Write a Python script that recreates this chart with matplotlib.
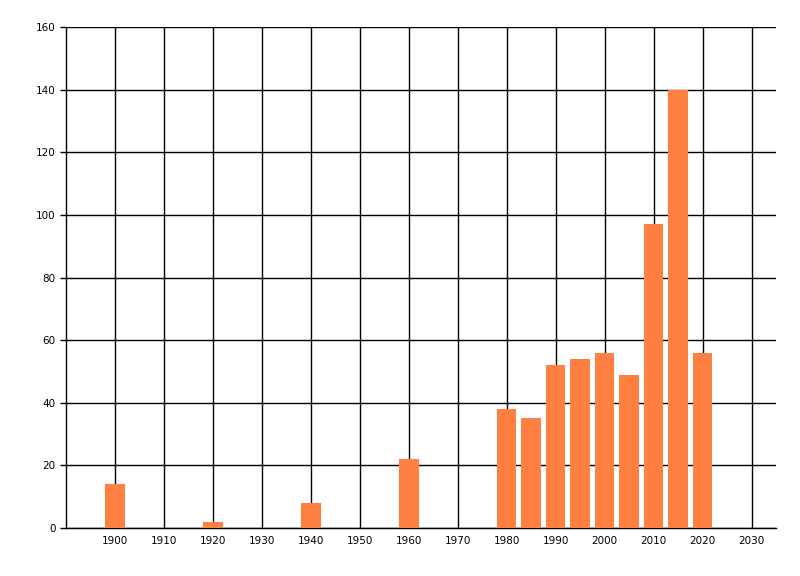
import matplotlib
matplotlib.use("Agg")
import matplotlib.pyplot as plt

years = [1900, 1920, 1940, 1960, 1980, 1985, 1990, 1995, 2000, 2005, 2010, 2015, 2020]
counts = [14, 2, 8, 22, 38, 35, 52, 54, 56, 49, 97, 140, 56]
xticks = list(range(1900, 2031, 10))
yticks = list(range(0, 161, 20))

fig = plt.figure(figsize=(8, 5.76), dpi=100)
ax = fig.add_axes([0.0825, 0.0833, 0.8875, 0.8698])
ax.bar(years, counts, width=4, color="#FF8040", zorder=3)
ax.set_xlim(1890, 2035)
ax.set_ylim(0, 160)
ax.set_xticks(xticks)
ax.set_yticks(yticks)
ax.grid(True, color="black", linewidth=1, zorder=1)
for s in ["top", "right"]:
    ax.spines[s].set_visible(False)
for s in ["left", "bottom"]:
    ax.spines[s].set_linewidth(1)
ax.tick_params(axis="x", length=0, pad=6, labelsize=7.5)
ax.tick_params(axis="y", length=4, width=1, labelsize=7.5)
fig.savefig("out.png", dpi=100)
